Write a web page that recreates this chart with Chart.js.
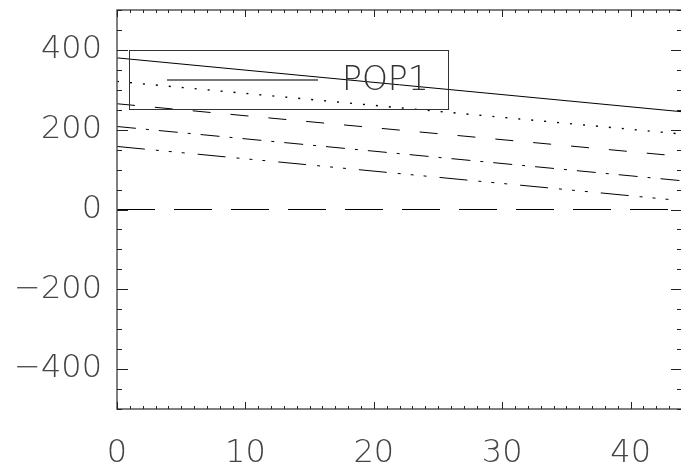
<!DOCTYPE html>
<html>
<head>
<meta charset="utf-8">
<script src="https://cdn.jsdelivr.net/npm/chart.js@4.4.1/dist/chart.umd.min.js"></script>
<style>
  html, body { margin: 0; padding: 0; background: #fff; overflow: hidden; }
  #wrap { width: 684px; height: 465px; }
</style>
</head>
<body>
<div id="wrap"><canvas id="chart" width="684" height="465"></canvas></div>
<script>
// valores
const xVals = [0, 44];
const pop1 = [380, 245];
const pop2 = [321, 189];
const pop3 = [265, 133];
const pop4 = [208, 72];
const pop5 = [158, 22];
const zeroLine = [0, 0];
const xTicks = [0, 10, 20, 30, 40];
const yTicks = [-400, -200, 0, 200, 400];
const legendLabel = 'POP1';

const FONT = '"DejaVu Sans", Lato, sans-serif';

function toPoints(ys) {
  return xVals.map((x, i) => ({ x: x, y: ys[i] }));
}

function makeSet(label, ys, dash, width) {
  return {
    label: label,
    data: toPoints(ys),
    borderColor: '#000',
    borderWidth: width || 1,
    borderDash: dash,
    pointRadius: 0,
    fill: false,
    tension: 0
  };
}

// marco, ticks menores y leyenda dibujados a mano
const framePlugin = {
  id: 'frame',
  afterDraw(chart) {
    const ctx = chart.ctx;
    const a = chart.chartArea;
    const xs = chart.scales.x;
    const ys = chart.scales.y;
    ctx.save();
    ctx.strokeStyle = '#555';
    ctx.lineWidth = 1.5;
    ctx.strokeRect(a.left, a.top, a.right - a.left, a.bottom - a.top);

    ctx.lineWidth = 1;
    ctx.strokeStyle = '#222';
    ctx.beginPath();
    for (let v = 0; v <= 44; v++) {
      const px = Math.round(xs.getPixelForValue(v)) + 0.5;
      const len = v % 10 === 0 ? 7 : 3;
      ctx.moveTo(px, a.bottom); ctx.lineTo(px, a.bottom - len);
      ctx.moveTo(px, a.top); ctx.lineTo(px, a.top + len);
    }
    for (let v = -500; v <= 500; v += 50) {
      const py = Math.round(ys.getPixelForValue(v)) + 0.5;
      const len = v % 200 === 0 ? 11 : 5;
      ctx.moveTo(a.left, py); ctx.lineTo(a.left + len, py);
      ctx.moveTo(a.right, py); ctx.lineTo(a.right - len, py);
    }
    ctx.stroke();

    // leyenda
    const bx = a.left + 12, by = a.top + 40, bw = 319, bh = 59;
    ctx.strokeStyle = '#333';
    ctx.lineWidth = 1;
    ctx.strokeRect(bx + 0.5, by + 0.5, bw, bh);
    ctx.strokeStyle = '#777';
    ctx.lineWidth = 2;
    ctx.beginPath();
    ctx.moveTo(bx + 38, by + 30);
    ctx.lineTo(bx + 189, by + 30);
    ctx.stroke();
    ctx.fillStyle = '#333';
    ctx.font = '200 33px ' + FONT;
    ctx.textBaseline = 'alphabetic';
    ctx.textAlign = 'left';
    ctx.fillText(legendLabel, bx + 213, by + 40);
    ctx.restore();
  }
};

new Chart(document.getElementById('chart'), {
  type: 'line',
  data: {
    datasets: [
      makeSet(legendLabel, pop1, []),
      makeSet('POP2', pop2, [2, 11], 1.4),
      makeSet('POP3', pop3, [18, 20]),
      makeSet('POP4', pop4, [19, 10, 3, 10]),
      makeSet('POP5', pop5, [28, 11, 3, 10, 3, 10, 3, 13]),
      makeSet('cero', zeroLine, [38, 19])
    ]
  },
  options: {
    responsive: false,
    animation: false,
    layout: { padding: { left: 0, right: 2, top: 10, bottom: 0 } },
    plugins: {
      legend: { display: false },
      tooltip: { enabled: false }
    },
    scales: {
      x: {
        type: 'linear',
        min: 0,
        max: 44,
        grid: { display: false, drawTicks: false },
        border: { display: false },
        afterBuildTicks: s => { s.ticks = xTicks.map(v => ({ value: v })); },
        afterFit: s => { s.height = 56; s.paddingLeft = 0; s.paddingRight = 0; },
        ticks: {
          color: '#444',
          padding: 25,
          maxRotation: 0,
          font: { family: FONT, size: 32, weight: 200 }
        }
      },
      y: {
        min: -500,
        max: 500,
        grid: { display: false, drawTicks: false },
        border: { display: false },
        afterBuildTicks: s => { s.ticks = yTicks.map(v => ({ value: v })); },
        afterFit: s => { s.width = 117; s.paddingTop = 0; s.paddingBottom = 0; },
        ticks: {
          color: '#444',
          padding: 15,
          font: { family: FONT, size: 32, weight: 200 },
          callback: v => v < 0 ? '\u2212' + Math.abs(v) : String(v)
        }
      }
    }
  },
  plugins: [framePlugin]
});
</script>
</body>
</html>
